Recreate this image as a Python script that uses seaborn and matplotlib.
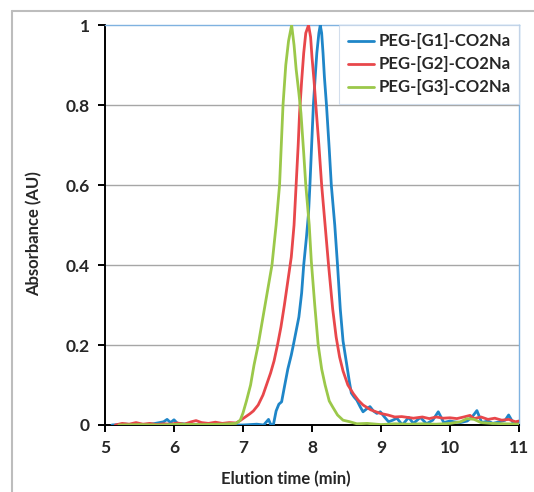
import numpy as np
import pandas as pd
import seaborn as sns
import matplotlib
matplotlib.use("Agg")
import matplotlib.pyplot as plt
from matplotlib.lines import Line2D

# ---------------- data ----------------
series_names = ["PEG-[G1]-CO2Na", "PEG-[G2]-CO2Na", "PEG-[G3]-CO2Na"]

g1_time = [5.1, 5.3, 5.5, 5.7, 5.85, 5.9, 5.95, 6.0, 6.05, 6.2, 6.4, 6.6, 6.8, 7.0, 7.2, 7.3,
           7.35, 7.37, 7.40, 7.44, 7.48, 7.52, 7.56, 7.60, 7.65, 7.70, 7.73, 7.77, 7.81, 7.85,
           7.88, 7.92, 7.95, 7.97, 8.00, 8.02, 8.05, 8.07, 8.10, 8.12, 8.14, 8.16, 8.18, 8.21,
           8.25, 8.28, 8.33, 8.37, 8.41, 8.45, 8.50, 8.54, 8.57, 8.61, 8.65, 8.70, 8.74, 8.79,
           8.84, 8.89, 8.94, 8.99, 9.05, 9.11, 9.17, 9.23, 9.31, 9.40, 9.47, 9.57, 9.66, 9.75,
           9.83, 9.91, 10.0, 10.06, 10.15, 10.25, 10.32, 10.39, 10.46, 10.55, 10.62, 10.72,
           10.80, 10.85, 10.92, 11.0]
g1_abs = [0.0, 0.002, 0.0, 0.003, 0.008, 0.014, 0.006, 0.013, 0.004, 0.002, 0.0, 0.003, 0.0,
          0.0, 0.002, 0.0, 0.010, 0.014, 0.002, 0.0, 0.035, 0.052, 0.058, 0.095, 0.14, 0.175,
          0.20, 0.235, 0.27, 0.33, 0.40, 0.47, 0.53, 0.60, 0.72, 0.80, 0.88, 0.93, 0.98, 1.0,
          0.98, 0.93, 0.87, 0.80, 0.69, 0.60, 0.50, 0.40, 0.29, 0.21, 0.155, 0.11, 0.08, 0.07,
          0.062, 0.045, 0.033, 0.04, 0.046, 0.035, 0.029, 0.033, 0.02, 0.008, 0.012, 0.017,
          0.0, 0.019, 0.004, 0.019, 0.003, 0.012, 0.033, 0.006, 0.01, 0.008, 0.006, 0.01,
          0.02, 0.036, 0.006, 0.01, 0.004, 0.008, 0.012, 0.025, 0.004, 0.005]

g2_time = [5.15, 5.25, 5.35, 5.45, 5.55, 5.65, 5.75, 5.85, 5.95, 6.05, 6.15, 6.25, 6.32, 6.4,
           6.5, 6.6, 6.7, 6.8, 6.9, 6.95, 7.0, 7.05, 7.1, 7.15, 7.22, 7.29, 7.34, 7.40, 7.45,
           7.50, 7.55, 7.60, 7.65, 7.70, 7.74, 7.77, 7.80, 7.82, 7.85, 7.88, 7.91, 7.95, 7.98,
           8.00, 8.03, 8.06, 8.10, 8.14, 8.19, 8.24, 8.30, 8.35, 8.40, 8.45, 8.52, 8.60, 8.67,
           8.74, 8.85, 8.99, 9.1, 9.2, 9.3, 9.47, 9.6, 9.7, 9.8, 9.9, 10.0, 10.1, 10.2, 10.29,
           10.35, 10.45, 10.55, 10.65, 10.75, 10.85, 10.95, 11.0]
g2_abs = [0.0, 0.004, 0.002, 0.006, 0.002, 0.004, 0.001, 0.003, 0.002, 0.005, 0.002, 0.008,
          0.011, 0.006, 0.004, 0.007, 0.004, 0.006, 0.005, 0.010, 0.016, 0.022, 0.028, 0.035,
          0.05, 0.075, 0.10, 0.13, 0.16, 0.20, 0.245, 0.30, 0.36, 0.42, 0.50, 0.60, 0.70, 0.78,
          0.86, 0.93, 0.98, 1.0, 0.97, 0.92, 0.86, 0.79, 0.70, 0.60, 0.50, 0.40, 0.29, 0.22,
          0.17, 0.135, 0.10, 0.078, 0.062, 0.05, 0.038, 0.029, 0.025, 0.02, 0.021, 0.017, 0.02,
          0.016, 0.02, 0.017, 0.018, 0.016, 0.02, 0.024, 0.016, 0.02, 0.014, 0.017, 0.012,
          0.014, 0.008, 0.01]

g3_time = [5.2, 5.5, 5.8, 6.1, 6.4, 6.7, 6.9, 6.96, 7.0, 7.05, 7.11, 7.16, 7.22, 7.28, 7.34,
           7.42, 7.48, 7.53, 7.58, 7.62, 7.66, 7.705, 7.74, 7.77, 7.81, 7.84, 7.88, 7.91, 7.96,
           7.99, 8.04, 8.09, 8.14, 8.19, 8.25, 8.30, 8.37, 8.45, 8.55, 8.65, 8.8, 9.0, 9.2, 9.4,
           9.6, 9.8, 10.0, 10.15, 10.25, 10.35, 10.45, 10.6, 10.8, 11.0]
g3_abs = [0.0, 0.001, 0.0, 0.002, 0.001, 0.002, 0.004, 0.012, 0.03, 0.06, 0.10, 0.15, 0.20,
          0.26, 0.32, 0.40, 0.50, 0.60, 0.80, 0.90, 0.96, 1.0, 0.95, 0.89, 0.83, 0.78, 0.68,
          0.60, 0.50, 0.41, 0.30, 0.20, 0.14, 0.10, 0.06, 0.045, 0.025, 0.012, 0.008, 0.003,
          0.004, 0.001, 0.003, 0.002, 0.003, 0.002, 0.004, 0.008, 0.016, 0.014, 0.006, 0.004,
          0.003, 0.002]

x_ticks = [5, 6, 7, 8, 9, 10, 11]
y_ticks = [0, 0.2, 0.4, 0.6, 0.8, 1.0]
y_tick_labels = ["0", "0.2", "0.4", "0.6", "0.8", "1"]
x_label = "Elution time (min)"
y_label = "Absorbance (AU)"

colors = {"PEG-[G1]-CO2Na": "#1f86c8",
          "PEG-[G2]-CO2Na": "#e8474b",
          "PEG-[G3]-CO2Na": "#9bc84a"}

# ---------------- build table ----------------
frames = []
for name, t, a in zip(series_names, [g1_time, g2_time, g3_time], [g1_abs, g2_abs, g3_abs]):
    frames.append(pd.DataFrame({"time": t, "abs": a, "series": name}))
df = pd.concat(frames, ignore_index=True)

# ---------------- plot ----------------
sns.set_style("white")
plt.rcParams["font.family"] = ["Lato", "DejaVu Sans"]
plt.rcParams["font.weight"] = "bold"

fig = plt.figure(figsize=(5.34, 4.92), dpi=100)
ax = fig.add_axes([0.1966, 0.1362, 0.9719 - 0.1966, 0.949 - 0.1362])

sns.lineplot(data=df, x="time", y="abs", hue="series", hue_order=series_names,
             palette=colors, sort=False, estimator=None, linewidth=2.0, ax=ax,
             legend=False, zorder=3)

ax.set_xlim(5, 11)
ax.set_ylim(0, 1)
ax.set_xticks(x_ticks)
ax.set_yticks(y_ticks)
ax.set_yticklabels(y_tick_labels)
ax.set_xticklabels([str(v) for v in x_ticks])

for yv in y_ticks[1:-1]:
    ax.axhline(yv, color="#a6a6a6", linewidth=1.0, zorder=1)

for side in ["left", "bottom"]:
    ax.spines[side].set_color("black")
    ax.spines[side].set_linewidth(1.4)
for side in ["top", "right"]:
    ax.spines[side].set_color("#7fb2e0")
    ax.spines[side].set_linewidth(1.0)
    ax.spines[side].set_visible(True)

ax.tick_params(axis="both", which="major", direction="out", length=5, width=1.4,
               color="black", labelsize=12.5, pad=6)
ax.xaxis.set_ticks_position("bottom")
ax.yaxis.set_ticks_position("left")
for lab in ax.get_xticklabels() + ax.get_yticklabels():
    lab.set_fontweight("bold")

ax.set_xlabel(x_label, fontsize=12, fontweight="bold")
ax.set_ylabel(y_label, fontsize=12, fontweight="bold")
ax.xaxis.set_label_coords(0.437, -0.115)
ax.yaxis.set_label_coords(-0.152, 0.4775)

handles = [Line2D([0], [0], color=colors[n], linewidth=2.0) for n in series_names]
leg = ax.legend(handles, series_names, loc="upper right",
                prop={"weight": "bold", "size": 12}, frameon=True, fancybox=False,
                handlelength=1.6, handletextpad=0.25, borderaxespad=0.0,
                labelspacing=0.42, borderpad=0.5)
leg.get_frame().set_edgecolor("#c8d6e8")
leg.get_frame().set_linewidth(0.8)
leg.get_frame().set_facecolor("white")
leg.set_zorder(5)

# outer gray frame of the figure
fig.add_artist(Line2D([0.0225, 0.0225], [0.0, 0.978], transform=fig.transFigure,
                      color="#bdbdbd", linewidth=1.5))
fig.add_artist(Line2D([0.0225, 1.0], [0.978, 0.978], transform=fig.transFigure,
                      color="#bdbdbd", linewidth=1.5))

fig.savefig("out.png", dpi=100, facecolor="white")
